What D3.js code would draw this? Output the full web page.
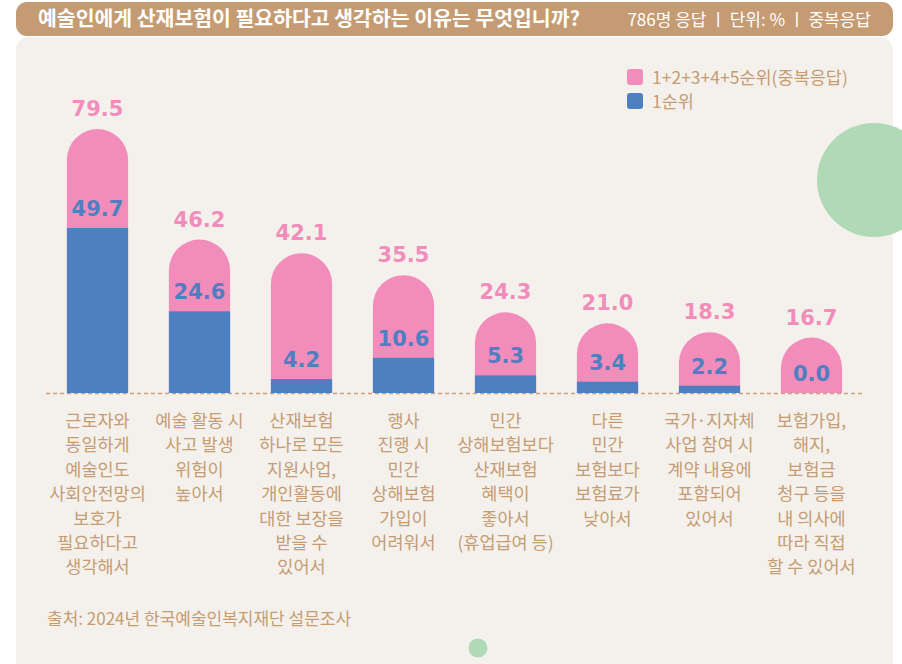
<!DOCTYPE html>
<html>
<head>
<meta charset="utf-8">
<script src="https://cdn.jsdelivr.net/npm/d3@7"></script>
<style>
  html, body { margin: 0; padding: 0; background: #ffffff; }
  svg { display: block; }
</style>
</head>
<body>
<svg id="chart" width="902" height="664"></svg>
<script>
// data
const categories = [
  ["근로자와", "동일하게", "예술인도", "사회안전망의", "보호가", "필요하다고", "생각해서"],
  ["예술 활동 시", "사고 발생", "위험이", "높아서"],
  ["산재보험", "하나로 모든", "지원사업,", "개인활동에", "대한 보장을", "받을 수", "있어서"],
  ["행사", "진행 시", "민간", "상해보험", "가입이", "어려워서"],
  ["민간", "상해보험보다", "산재보험", "혜택이", "좋아서", "(휴업급여 등)"],
  ["다른", "민간", "보험보다", "보험료가", "낮아서"],
  ["국가·지자체", "사업 참여 시", "계약 내용에", "포함되어", "있어서"],
  ["보험가입,", "해지,", "보험금", "청구 등을", "내 의사에", "따라 직접", "할 수 있어서"]
];
const totalValues = [79.5, 46.2, 42.1, 35.5, 24.3, 21.0, 18.3, 16.7]; // 1+2+3+4+5순위
const firstValues = [49.7, 24.6, 4.2, 10.6, 5.3, 3.4, 2.2, 0.0];      // 1순위
const seriesNames = ["1+2+3+4+5순위(중복응답)", "1순위"];
const title = "예술인에게 산재보험이 필요하다고 생각하는 이유는 무엇입니까?";
const subtitle = "786명 응답 ㅣ 단위: % ㅣ 중복응답";
const source = "출처: 2024년 한국예술인복지재단 설문조사";

const pink = "#f28dbb", blue = "#4e7fc0", tan = "#c59c74", green = "#b0d9b6";
const kr = "'Noto Sans CJK KR', 'Noto Sans', sans-serif";
const num = "'DejaVu Sans', 'Noto Sans', sans-serif";

const svg = d3.select("#chart");

// panel + header
svg.append("rect").attr("x", 16).attr("y", 37).attr("width", 877).attr("height", 640)
  .attr("rx", 13).attr("fill", "#f4f1ec");
svg.append("rect").attr("x", 16).attr("y", 2).attr("width", 877).attr("height", 34)
  .attr("rx", 11).attr("fill", "#c49b73");
svg.append("text").attr("x", 38).attr("y", 26).text(title)
  .attr("font-family", kr).attr("font-size", 20).attr("font-weight", "bold").attr("fill", "#fff")
  .attr("textLength", 542).attr("lengthAdjust", "spacingAndGlyphs");
svg.append("text").attr("x", 871).attr("y", 26).attr("text-anchor", "end").text(subtitle)
  .attr("font-family", kr).attr("font-size", 17).attr("fill", "#fff");

// decoration
svg.append("circle").attr("cx", 874).attr("cy", 180).attr("r", 57).attr("fill", green);
svg.append("circle").attr("cx", 478).attr("cy", 648).attr("r", 9.5).attr("fill", green);

// scales
const x = d3.scaleBand().domain(d3.range(categories.length))
  .range([46.5, 862.5]).paddingInner(0.4).paddingOuter(0.2);
const y = d3.scaleLinear().domain([0, 100]).range([393, 61]);
const bw = x.bandwidth(), r = bw / 2;

// baseline
svg.append("line").attr("x1", 46).attr("x2", 862).attr("y1", y(0) + 0.5).attr("y2", y(0) + 0.5)
  .attr("stroke", "#c9a07c").attr("stroke-width", 1.3).attr("stroke-dasharray", "4,3");

const idx = d3.range(categories.length);

// total bars with round tops
svg.append("g").selectAll("path").data(idx).join("path")
  .attr("d", i => {
    const x0 = x(i), x1 = x0 + bw, top = y(totalValues[i]), b = y(0);
    return `M${x0},${b}L${x0},${top + r}A${r},${r} 0 0 1 ${x1},${top + r}L${x1},${b}Z`;
  })
  .attr("fill", pink);

// first rank bars
svg.append("g").selectAll("rect").data(idx).join("rect")
  .attr("x", i => x(i)).attr("width", bw)
  .attr("y", i => y(firstValues[i])).attr("height", i => y(0) - y(firstValues[i]))
  .attr("fill", blue);

// value labels
svg.append("g").selectAll("text").data(idx).join("text")
  .attr("x", i => x(i) + bw / 2).attr("y", i => y(totalValues[i]) - 13)
  .attr("text-anchor", "middle").text(i => totalValues[i].toFixed(1))
  .attr("font-family", num).attr("font-size", 21).attr("font-weight", "bold").attr("fill", pink);
svg.append("g").selectAll("text").data(idx).join("text")
  .attr("x", i => x(i) + bw / 2).attr("y", i => y(firstValues[i]) - 12)
  .attr("text-anchor", "middle").text(i => firstValues[i].toFixed(1))
  .attr("font-family", num).attr("font-size", 21).attr("font-weight", "bold").attr("fill", blue);

// category labels
const cat = svg.append("g").selectAll("text").data(idx).join("text")
  .attr("text-anchor", "middle").attr("font-family", kr).attr("font-size", 17.5).attr("fill", tan);
cat.selectAll("tspan").data(i => categories[i].map(l => ({ i, l }))).join("tspan")
  .attr("x", d => x(d.i) + bw / 2).attr("y", (d, k) => 427 + k * 24.4).text(d => d.l);

// legend
const legend = svg.append("g").selectAll("g").data(seriesNames).join("g")
  .attr("transform", (d, k) => `translate(627,${69 + k * 24})`);
legend.append("rect").attr("width", 16).attr("height", 16).attr("rx", 3)
  .attr("fill", (d, k) => k === 0 ? pink : blue);
legend.append("text").attr("x", 25).attr("y", 14.5).text(d => d)
  .attr("font-family", kr).attr("font-size", 17.5).attr("fill", tan);

// source
svg.append("text").attr("x", 47).attr("y", 625).text(source)
  .attr("font-family", kr).attr("font-size", 17).attr("fill", tan);
</script>
</body>
</html>
